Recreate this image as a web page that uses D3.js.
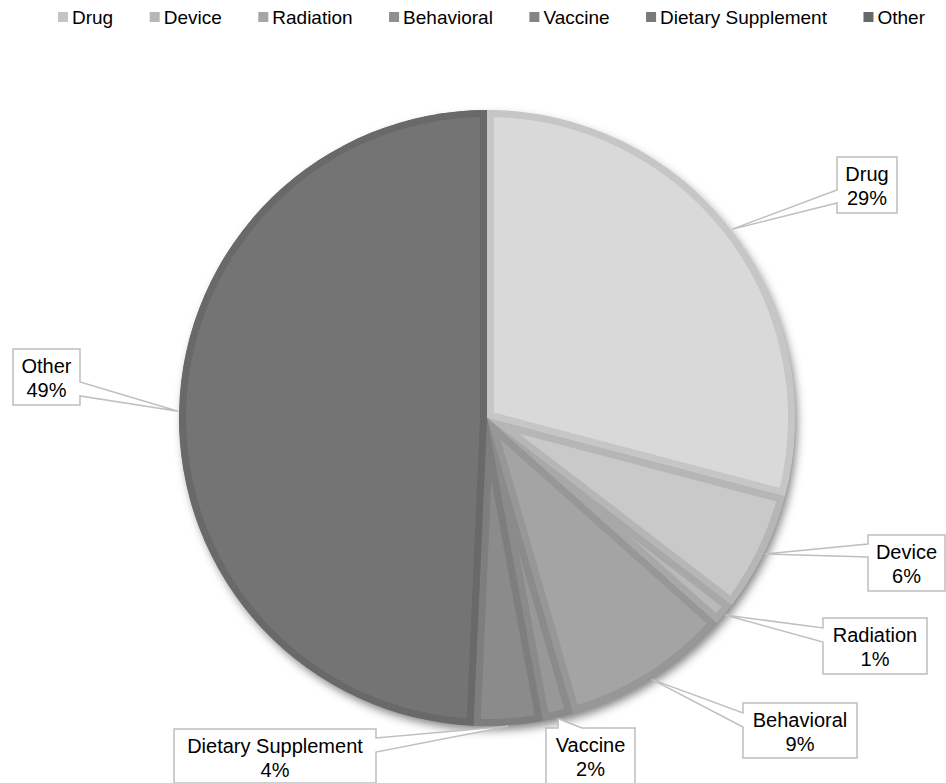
<!DOCTYPE html>
<html>
<head>
<meta charset="utf-8">
<script src="https://cdn.jsdelivr.net/npm/d3@7/dist/d3.min.js"></script>
<style>
  html, body { margin: 0; padding: 0; background: #fff; }
  svg { display: block; font-family: "Liberation Sans", Arial, sans-serif; }
</style>
</head>
<body>
<svg id="chart" width="946" height="783"></svg>
<script>
// ---- data ----
const categories = ["Drug", "Device", "Radiation", "Behavioral", "Vaccine", "Dietary Supplement", "Other"];
const values = [29.1, 6.3, 1.2, 8.9, 1.6, 3.6, 49.3];
const fillColors = ["#d9d9d9", "#c9c9c9", "#b9b9b9", "#a4a4a4", "#989898", "#8b8b8b", "#747474"];
const borderColors = ["#c6c6c6", "#b6b6b6", "#a8a8a8", "#979797", "#8b8b8b", "#7e7e7e", "#696969"];
const legendColors = ["#c4c4c4", "#b7b7b7", "#a6a6a6", "#8f8f8f", "#858585", "#7a7a7a", "#686868"];

// ---- layout (label callout boxes) ----
const labelBoxes = {
  "Drug":               { x: 837, y: 157, w: 60,  h: 56, side: "left",  b1: 190, b2: 203 },
  "Device":             { x: 868, y: 535, w: 77,  h: 56, side: "left",  b1: 544, b2: 557 },
  "Radiation":          { x: 823, y: 618, w: 104, h: 56, side: "left",  b1: 628, b2: 642 },
  "Behavioral":         { x: 743, y: 703, w: 114, h: 55, side: "left",  b1: 713, b2: 727 },
  "Vaccine":            { x: 546, y: 728, w: 89,  h: 56, side: "top",   b1: 558, b2: 582 },
  "Dietary Supplement": { x: 174, y: 729, w: 202, h: 54, side: "right", b1: 738, b2: 752 },
  "Other":              { x: 13,  y: 349, w: 67,  h: 56, side: "right", b1: 382, b2: 396 }
};

const svg = d3.select("#chart");
const cx = 487, cy = 418, R = 308;
const total = d3.sum(values);
const data = categories.map((c, i) => ({ name: c, value: values[i], i }));

const defs = svg.append("defs");
const f = defs.append("filter").attr("id", "shadow").attr("x", "-10%").attr("y", "-10%").attr("width", "130%").attr("height", "130%");
f.append("feDropShadow").attr("dx", 3).attr("dy", 5).attr("stdDeviation", 5)
  .attr("flood-color", "#000").attr("flood-opacity", 0.5);

const pie = d3.pie().value(d => d.value).sort(null);
const arcs = pie(data);
const arc = d3.arc().innerRadius(0).outerRadius(R);

const g = svg.append("g").attr("transform", `translate(${cx},${cy})`);

// shadow base
g.append("circle").attr("r", R - 1).attr("fill", "#777").attr("filter", "url(#shadow)");

arcs.forEach((a, k) => {
  const id = "clip" + k;
  defs.append("clipPath").attr("id", id).attr("clipPathUnits", "userSpaceOnUse")
    .append("path").attr("d", arc(a));
  g.append("path")
    .attr("d", arc(a))
    .attr("fill", fillColors[k])
    .attr("stroke", borderColors[k])
    .attr("stroke-width", 14)
    .attr("stroke-linejoin", "miter")
    .attr("clip-path", `url(#${id})`);
});

// ---- callouts ----
function calloutPath(b, tip) {
  const x = b.x, y = b.y, w = b.w, h = b.h;
  let pts;
  if (b.side === "left") {
    pts = [[x, y], [x + w, y], [x + w, y + h], [x, y + h], [x, b.b2], tip, [x, b.b1]];
  } else if (b.side === "right") {
    pts = [[x, y], [x + w, y], [x + w, b.b1], tip, [x + w, b.b2], [x + w, y + h], [x, y + h]];
  } else {
    pts = [[x, y], [b.b1, y], tip, [b.b2, y], [x + w, y], [x + w, y + h], [x, y + h]];
  }
  return "M" + pts.map(p => p.join(",")).join("L") + "Z";
}

const lab = svg.append("g");
arcs.forEach((a, k) => {
  const name = a.data.name;
  const b = labelBoxes[name];
  const mid = (a.startAngle + a.endAngle) / 2;
  const tip = [cx + (R + 1) * Math.sin(mid), cy - (R + 1) * Math.cos(mid)];
  lab.append("path").attr("d", calloutPath(b, tip))
    .attr("fill", "#fff").attr("stroke", "#bfbfbf").attr("stroke-width", 1.5);
  const pct = Math.round(a.data.value / total * 100) + "%";
  const t = lab.append("text").attr("text-anchor", "middle").attr("font-size", 20).attr("fill", "#000");
  t.append("tspan").attr("x", b.x + b.w / 2).attr("y", b.y + 24).text(name);
  t.append("tspan").attr("x", b.x + b.w / 2).attr("y", b.y + 48).text(pct);
});

// ---- legend ----
const leg = svg.append("g");
const sw = 10, swGap = 4, fontSize = 19;
const legLeft = 58, legRight = 925;
const items = [];
let textSum = 0;
categories.forEach((c, i) => {
  const it = leg.append("g");
  it.append("rect").attr("x", 0).attr("y", -sw / 2).attr("width", sw).attr("height", sw).attr("fill", legendColors[i]);
  const tx = it.append("text").attr("x", sw + swGap).attr("y", 0).attr("dy", "0.35em")
    .attr("font-size", fontSize).attr("fill", "#000").text(c);
  const w = sw + swGap + tx.node().getComputedTextLength();
  items.push({ it, w });
  textSum += w;
});
const itemGap = (legRight - legLeft - textSum) / (categories.length - 1);
let xPos = legLeft;
items.forEach(o => { o.it.attr("transform", `translate(${xPos},17)`); xPos += o.w + itemGap; });
</script>
</body>
</html>
